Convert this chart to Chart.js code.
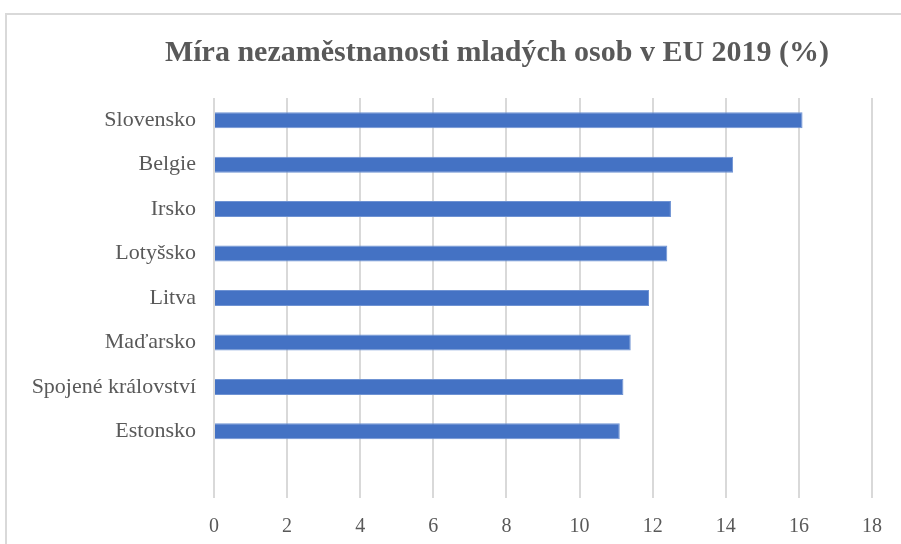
<!DOCTYPE html>
<html>
<head>
<meta charset="utf-8">
<script src="https://cdn.jsdelivr.net/npm/chart.js@4"></script>
<style>
  html, body { margin: 0; padding: 0; background: #fff; }
  #wrap { position: relative; width: 901px; height: 544px; overflow: hidden; }
  #frame { position: absolute; left: 5px; top: 13px; width: 920px; height: 600px; border: 2px solid #d9d9d9; box-sizing: border-box; }
  canvas { position: absolute; left: 0; top: 0; }
</style>
</head>
<body>
<div id="wrap">
  <div id="frame"></div>
  <canvas id="c" width="901" height="544"></canvas>
</div>
<script>
const titleText = 'Míra nezaměstnanosti mladých osob v EU 2019 (%)';
const categories = ['Slovensko', 'Belgie', 'Irsko', 'Lotyšsko', 'Litva', 'Maďarsko', 'Spojené království', 'Estonsko', ''];
const values = [16.1, 14.2, 12.5, 12.4, 11.9, 11.4, 11.2, 11.1, null];
const xTicks = [0, 2, 4, 6, 8, 10, 12, 14, 16, 18];

const PAD_L = 10, PAD_R = 29, PAD_T = 10, PAD_B = 0;
const PLOT_LEFT = 214, PLOT_BOTTOM = 498;
const TITLE_LEFT = 122, TITLE_RIGHT = 872;

const titleShift = {
  id: 'titleShift',
  afterLayout(chart) {
    const tb = chart.titleBlock;
    if (tb) { tb.left = TITLE_LEFT; tb.right = TITLE_RIGHT; tb.width = TITLE_RIGHT - TITLE_LEFT; }
  }
};

new Chart(document.getElementById('c'), {
  type: 'bar',
  data: {
    labels: categories,
    datasets: [{
      data: values,
      backgroundColor: '#4472C4',
      borderColor: '#6f93d3',
      borderWidth: 1,
      categoryPercentage: 1,
      barPercentage: 0.36
    }]
  },
  plugins: [titleShift],
  options: {
    indexAxis: 'y',
    responsive: false,
    animation: false,
    layout: { padding: { left: PAD_L, right: PAD_R, top: PAD_T, bottom: PAD_B } },
    plugins: {
      legend: { display: false },
      tooltip: { enabled: false },
      title: {
        display: true,
        text: titleText,
        color: '#595959',
        font: { family: 'Liberation Serif', size: 30, weight: 'bold', lineHeight: 1.2 },
        padding: { top: 25, bottom: 27 }
      }
    },
    scales: {
      x: {
        min: 0, max: 18,
        afterBuildTicks: (s) => { s.ticks = xTicks.map(v => ({ value: v })); },
        grid: { color: '#d9d9d9', lineWidth: 2, drawTicks: false },
        border: { display: false },
        ticks: { color: '#595959', font: { family: 'Liberation Serif', size: 20 }, padding: 17 },
        afterFit: (s) => { s.height = 544 - PLOT_BOTTOM - PAD_B; }
      },
      y: {
        grid: { display: false, drawTicks: false },
        border: { display: false },
        ticks: { color: '#595959', font: { family: 'Liberation Serif', size: 22 }, padding: 18 },
        afterFit: (s) => { s.width = PLOT_LEFT - PAD_L; }
      }
    }
  }
});
</script>
</body>
</html>
